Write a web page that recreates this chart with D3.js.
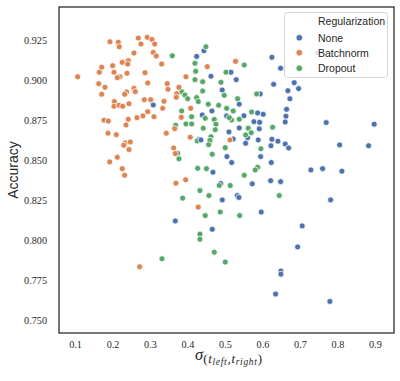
<!DOCTYPE html>
<html><head><meta charset="utf-8">
<script src="https://cdn.jsdelivr.net/npm/d3@7"></script>
<style>body{margin:0;background:#fff}svg{display:block}</style>
</head><body>
<svg id="chart" width="400" height="381"></svg>
<script>
const seriesNames = ["None", "Batchnorm", "Dropout"];
const seriesColors = ["#4C72B0", "#DD8452", "#55A868"];
const xTicks = [0.1,0.2,0.3,0.4,0.5,0.6,0.7,0.8,0.9];
const yTicks = [0.750,0.775,0.800,0.825,0.850,0.875,0.900,0.925];

const noneX = [0.3088,0.4245,0.4440,0.4307,0.3675,0.6253,0.6485,0.5160,0.4627,0.5301,0.6299,0.6848,0.6965,0.6680,0.4928,0.5941,0.6733,0.5381,0.6645,0.5872,0.6021,0.4395,0.4653,0.5045,0.5507,0.6627,0.6608,0.5773,0.5925,0.7701,0.8981,0.5381,0.5915,0.5107,0.5605,0.4360,0.5552,0.5888,0.6253,0.6413,0.6227,0.6608,0.6699,0.8059,0.8832,0.5053,0.5952,0.5179,0.6235,0.4680,0.7293,0.7605,0.8120,0.4885,0.5728,0.6219,0.6485,0.5328,0.5373,0.4928,0.7819,0.5968,0.7061,0.4661,0.6939,0.6493,0.6493,0.6352,0.7800,0.7472,0.5221];
const noneY = [0.8845,0.9148,0.9183,0.8631,0.8122,0.9142,0.9074,0.9049,0.9024,0.9003,0.8974,0.8984,0.8947,0.8934,0.8938,0.8914,0.8884,0.8850,0.8818,0.8795,0.8787,0.8783,0.8808,0.8777,0.8778,0.8775,0.8739,0.8741,0.8737,0.8735,0.8725,0.8702,0.8696,0.8677,0.8641,0.8627,0.8606,0.8627,0.8631,0.8619,0.8591,0.8602,0.8577,0.8596,0.8591,0.8523,0.8523,0.8486,0.8486,0.8426,0.8440,0.8448,0.8432,0.8355,0.8353,0.8373,0.8367,0.8280,0.8268,0.8253,0.8253,0.8177,0.8091,0.8070,0.7960,0.7809,0.7790,0.7666,0.7620,0.9171,0.8633];

const batchX = [0.1933,0.2155,0.2181,0.2688,0.2928,0.3053,0.3125,0.2760,0.2573,0.3088,0.3168,0.3312,0.2261,0.2421,0.2405,0.2005,0.1712,0.1648,0.2040,0.2387,0.2867,0.1072,0.2200,0.2128,0.1632,0.1800,0.2939,0.3461,0.3480,0.1712,0.2379,0.2325,0.2573,0.2608,0.2048,0.2040,0.2173,0.2272,0.2440,0.2848,0.3019,0.3373,0.3339,0.2939,0.2813,0.2653,0.2421,0.3107,0.1773,0.1888,0.2360,0.3773,0.3712,0.3701,0.3960,0.4085,0.3835,0.3659,0.3435,0.4075,0.3632,0.3675,0.3952,0.3693,0.1880,0.2101,0.2341,0.2475,0.2299,0.2440,0.2128,0.1925,0.2261,0.2325,0.4288,0.2725,0.4528,0.5285,0.5133];
const batchY = [0.9239,0.9236,0.9208,0.9262,0.9267,0.9254,0.9225,0.9225,0.9169,0.9173,0.9150,0.9100,0.9111,0.9121,0.9100,0.9090,0.9080,0.9049,0.9049,0.9043,0.9046,0.9021,0.9021,0.9015,0.8978,0.8955,0.8982,0.8978,0.8943,0.8912,0.8926,0.8912,0.8949,0.8928,0.8866,0.8837,0.8843,0.8837,0.8853,0.8878,0.8878,0.8868,0.8824,0.8803,0.8777,0.8766,0.8756,0.8772,0.8750,0.8745,0.8720,0.8955,0.8915,0.8893,0.9021,0.8824,0.8768,0.8697,0.8669,0.8644,0.8577,0.8542,0.8378,0.8357,0.8669,0.8660,0.8608,0.8614,0.8594,0.8567,0.8519,0.8490,0.8448,0.8407,0.8208,0.7836,0.9084,0.9117,0.8627];

const dropX = [0.3595,0.4200,0.4219,0.4200,0.3845,0.3933,0.4005,0.4245,0.4288,0.3845,0.4112,0.3960,0.4112,0.3685,0.4261,0.3739,0.3773,0.4272,0.3872,0.4333,0.4333,0.3320,0.4493,0.5515,0.5027,0.4405,0.4893,0.4405,0.4981,0.5845,0.5339,0.4555,0.4832,0.5045,0.5221,0.5712,0.4475,0.4715,0.5179,0.5381,0.4760,0.4421,0.4741,0.5621,0.5701,0.6272,0.5552,0.4627,0.4600,0.4565,0.5008,0.5960,0.4661,0.4507,0.5872,0.5808,0.5515,0.4848,0.5141,0.4333,0.4573,0.6448,0.4475,0.4875,0.5392,0.4715,0.5008,0.5115];
const dropY = [0.9152,0.9105,0.9055,0.9003,0.8928,0.8907,0.8884,0.8891,0.8866,0.8808,0.8772,0.8727,0.8727,0.8719,0.8621,0.8544,0.8509,0.8450,0.8264,0.8040,0.8008,0.7886,0.9208,0.9094,0.9049,0.8990,0.8986,0.8932,0.8905,0.8914,0.8884,0.8850,0.8843,0.8824,0.8808,0.8801,0.8762,0.8755,0.8751,0.8756,0.8725,0.8700,0.8691,0.8700,0.8672,0.8706,0.8658,0.8647,0.8624,0.8597,0.8579,0.8572,0.8538,0.8448,0.8457,0.8440,0.8407,0.8343,0.8343,0.8311,0.8280,0.8280,0.8155,0.8177,0.8155,0.7927,0.7865,0.8766];

const svg = d3.select("#chart");
const L = 59, R = 394, T = 7, B = 333;
const x = d3.scaleLinear().domain([0.0573, 0.951]).range([L, R]);
const y = d3.scaleLinear().domain([0.7423, 0.9456]).range([B, T]);
const textColor = "#262626";

const seriesData = [[noneX,noneY],[batchX,batchY],[dropX,dropY]];
const pts = [];
const maxN = d3.max(seriesData, s => s[0].length);
for (let i = 0; i < maxN; i++) {
  seriesData.forEach((s, k) => { if (i < s[0].length) pts.push({x: s[0][i], y: s[1][i], k}); });
}
svg.append("g").selectAll("circle").data(pts).join("circle")
  .attr("cx", d => x(d.x)).attr("cy", d => y(d.y)).attr("r", 3)
  .attr("fill", d => seriesColors[d.k]).attr("stroke", "#fff").attr("stroke-width", 0.75);

const xAxis = svg.append("g").attr("transform", `translate(0,${B})`)
  .call(d3.axisBottom(x).tickValues(xTicks).tickSize(0).tickPadding(8).tickFormat(d3.format(".1f")));
const yAxis = svg.append("g").attr("transform", `translate(${L},0)`)
  .call(d3.axisLeft(y).tickValues(yTicks).tickSize(0).tickPadding(12).tickFormat(d3.format(".3f")));
[xAxis, yAxis].forEach(a => {
  a.select(".domain").remove();
  a.selectAll("text").attr("font-family", "'Liberation Serif', serif").attr("font-size", 10.2).attr("fill", textColor);
});

svg.append("rect").attr("x", L).attr("y", T).attr("width", R - L).attr("height", B - T)
  .attr("fill", "none").attr("stroke", textColor).attr("stroke-width", 1.25);

svg.append("text").attr("transform", `translate(18,${(T + B) / 2}) rotate(-90)`)
  .attr("text-anchor", "middle").attr("font-family", "'Liberation Sans', sans-serif")
  .attr("font-size", 14).attr("fill", textColor).text("Accuracy");

const xl = svg.append("text").attr("x", 195).attr("y", 360)
  .attr("font-family", "'Liberation Serif', serif").attr("fill", textColor);
xl.append("tspan").attr("font-size", 16.5).attr("font-style", "italic").text("σ");
const sub = [["(", 13, 3, false], ["t", 13, 0, true], ["left", 9.5, 1.5, true], [",", 13, -1.5, false],
             ["t", 13, 0, true], ["right", 9.5, 1.5, true], [")", 13, -1.5, false]];
sub.forEach(([t, fs, dy, it]) => {
  xl.append("tspan").attr("font-size", fs).attr("dy", dy).attr("letter-spacing", 0.7)
    .attr("font-style", it ? "italic" : "normal").text(t);
});

const lg = svg.append("g");
lg.append("rect").attr("x", 284.5).attr("y", 12.5).attr("width", 103).attr("height", 65).attr("rx", 2.5)
  .attr("fill", "#fff").attr("fill-opacity", 0.8).attr("stroke", "#cccccc").attr("stroke-width", 0.8);
lg.append("text").attr("x", 318).attr("y", 24.5).attr("font-family", "'Liberation Sans', sans-serif")
  .attr("font-size", 10.5).attr("fill", textColor).text("Regularization");
const legY = [37.7, 52.7, 68.3];
seriesNames.forEach((n, i) => {
  lg.append("circle").attr("cx", 299.3).attr("cy", legY[i]).attr("r", 3.3)
    .attr("fill", seriesColors[i]).attr("stroke", "#fff").attr("stroke-width", 0.75);
  lg.append("text").attr("x", 318).attr("y", legY[i] + 3.8).attr("font-family", "'Liberation Sans', sans-serif")
    .attr("font-size", 10.5).attr("fill", textColor).text(n);
});
</script>
</body></html>
